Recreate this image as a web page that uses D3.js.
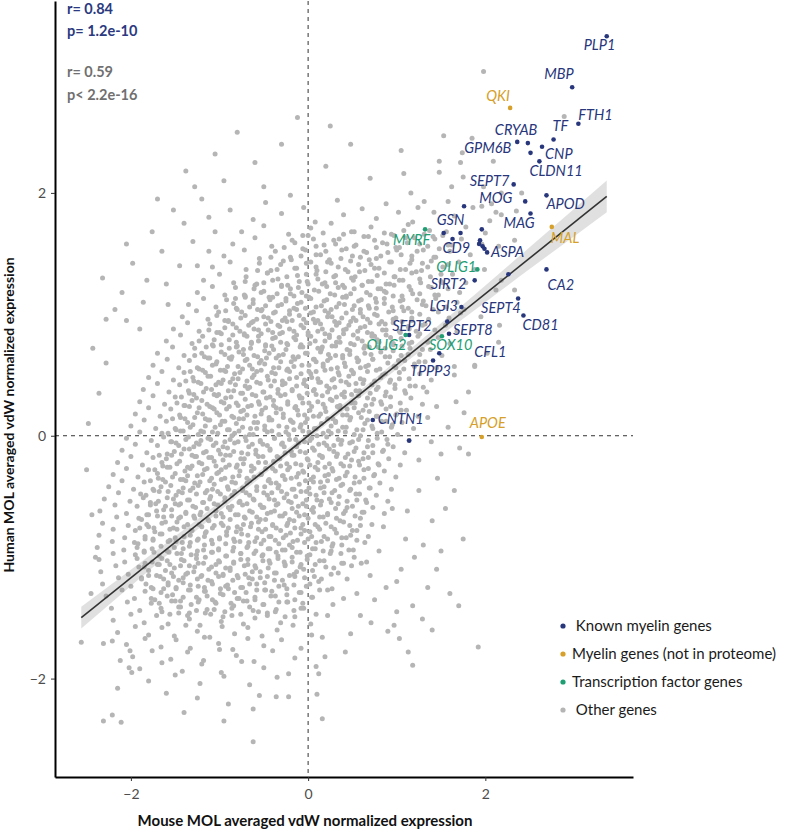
<!DOCTYPE html>
<html><head><meta charset="utf-8">
<script src="https://cdn.jsdelivr.net/npm/d3@7"></script>
<style>body{margin:0;background:#fff}</style>
</head><body><svg id="c" width="786" height="833"></svg>
<script>
// ---------- DATA ----------
// Other genes: flat list of (mouse, human) pairs, in hundredths of a unit
const otherGenesXY = [
198,300, 289,263, 153,247, 185,245, 174,233, 105,235, 108,216, 148,226, 172,225, 209,226, 148,217, 175,213, 162,205, 116,200, 198,205, 218,200, 241,200, 158,193, 207,191, 235,185, 124,188, 142,184, 186,188, 218,182,
48,240, -50,205, -88,186, -105,168, -130,160, 20,222, 70,212, -20,198,
233,120, 218,128, 212,120, 199,137, 215,156, 233,161, 212,184, 176,104, 195,98, 216,91, 215,77, 202,68, 188,58, 165,57,
167,28, 176,19, 181,36, 171,-10, 181,-15, 145,24, 158,7, 139,-5, 146,-35, 188,57, 165,50, 130,40, 125,-20, 135,15, 150,-15,
95,-60, 110,-85, 125,-45, 140,-70, 105,-110, 88,-125, 118,-140, 150,-95, 75,-135, 90,-161, 97,-156, 103,-167, 113,-178, 118,-189, 129,-151, 192,-174, 71,-154, 59,-148, 48,-163, 42,-178, 16,-166, 19,-182, 9,-190, 12,-196, 10,-213, 16,-233, -22,-215, -36,-215, -62,-225, -62,-252,
60,-105, 80,-95, 100,-120, 120,-100, 135,-125, 85,-75, 112,-62, 130,-90, 145,-110, 160,-130, 70,-115, 55,-130, 100,-145, 140,-160, 170,-140, 155,-60, 175,-85, 165,-45,
-256,-170, -231,-171, -221,-169, -212,-185, -201,-177, -202,-191, -199,-195, -215,-208, -231,-235, -221,-230, -211,-236,
-250,-28, -244,-65, -248,10, -240,-100, -245,-130, -236,35, -228,60, -243,72, -228,96, -210,118, -182,128, -165,152, -205,158, -140,175, -120,195, -95,210,
-198,142, -176,168, -152,186, -128,205, -112,180, -160,125, -145,140, -186,110, -218,104, -232,130, -170,195, -138,218, -105,232, -80,250, -60,225, -30,240, -12,262, 25,255, -190,88, -205,95, -158,108, -125,140, -112,152,
-48,192, -5,188, 33,194, 61,187, 88,191, 131,193, 196,189,
-62,178, -30,183, 8,176, 40,182, 77,179, 102,184, 118,176, 165,181, 205,177,
-75,168, -50,173, -22,166, 3,171, 26,175, 49,168, 71,172, 94,166, 113,174, 137,169, 152,165, 178,172, 200,167,
-85,158, -60,163, -41,156, -18,161, 0,165, 18,157, 35,162, 52,156, 68,164, 84,159, 99,155, 110,163, 126,158, 141,164, 158,157, 173,162, 196,158,
-95,148, -72,153, -55,146, -37,152, -20,147, -6,154, 9,149, 24,145, 38,153, 50,148, 63,152, 77,146, 90,151, 103,155, 117,148, 130,153, 144,147, 160,152, 183,149,
-108,139, -88,143, -70,137, -55,142, -42,136, -28,144, -15,138, -2,142, 10,136, 22,143, 34,139, 45,135, 57,141, 69,145, 80,138, 92,143, 104,137, 115,142, 128,136, 139,144, 152,139, 170,143, 188,137,
-118,128, -100,133, -84,126, -70,131, -58,125, -46,134, -34,129, -23,124, -12,132, -1,127, 9,133, 19,126, 29,131, 39,124, 49,130, 58,135, 68,127, 78,132, 88,125, 97,131, 107,128, 117,134, 127,126, 138,131, 150,127, 163,133, 178,126,
-125,118, -108,123, -94,116, -82,122, -71,115, -60,124, -50,119, -40,114, -30,123, -20,117, -11,122, -2,115, 7,120, 16,125, 25,117, 34,122, 43,115, 52,121, 61,124, 70,116, 79,121, 88,118, 97,124, 106,115, 116,120, 126,117, 136,123, 147,116, 158,121, 171,118,
-135,108, -118,113, -104,106, -92,112, -81,105, -71,114, -62,109, -52,104, -43,112, -34,107, -25,113, -16,105, -8,110, 1,114, 9,106, 18,111, 26,104, 35,109, 43,114, 52,107, 60,112, 69,105, 77,110, 86,113, 95,106, 104,111, 113,105, 123,112, 133,107, 144,113, 156,106, 168,110,
-142,98, -126,103, -113,96, -101,102, -90,95, -80,104, -71,99, -62,94, -53,103, -45,97, -37,102, -29,95, -21,100, -13,104, -5,96, 3,101, 11,95, 19,103, 27,98, 35,93, 43,101, 51,97, 59,104, 67,96, 75,100, 83,94, 91,102, 99,97, 108,103, 117,95, 126,100, 136,96, 147,102, 159,97, 172,101,
-152,88, -136,93, -123,86, -111,92, -100,85, -90,94, -81,89, -72,84, -64,93, -56,87, -48,92, -40,85, -32,90, -24,94, -16,86, -8,91, 0,85, 8,93, 16,88, 24,83, 32,91, 40,87, 48,94, 56,86, 64,90, 72,84, 80,92, 88,87, 96,93, 104,85, 113,90, 122,86, 132,92, 143,87, 155,91, 168,86,
-160,78, -144,83, -131,76, -119,82, -108,75, -98,84, -89,79, -80,74, -72,83, -64,77, -56,82, -48,75, -40,80, -32,84, -24,76, -16,81, -8,75, 0,83, 8,78, 16,73, 24,81, 32,77, 40,84, 48,76, 56,80, 64,74, 72,82, 80,77, 88,83, 96,75, 105,80, 114,76, 124,82, 135,77, 147,81, 160,76,
-170,68, -153,73, -140,66, -128,72, -117,65, -107,74, -98,69, -89,64, -81,73, -73,67, -65,72, -57,65, -49,70, -41,74, -33,66, -25,71, -17,65, -9,73, -1,68, 7,63, 15,71, 23,67, 31,74, 39,66, 47,70, 55,64, 63,72, 71,67, 79,73, 87,65, 96,70, 105,66, 115,72, 126,67, 138,71, 151,66,
-175,58, -159,63, -146,56, -134,62, -123,55, -113,64, -104,59, -95,54, -87,63, -79,57, -71,62, -63,55, -55,60, -47,64, -39,56, -31,61, -23,55, -15,63, -7,58, 1,53, 9,61, 17,57, 25,64, 33,56, 41,60, 49,54, 57,62, 65,57, 73,63, 81,55, 90,60, 99,56, 109,62, 120,57, 132,61, 145,56,
-180,48, -165,53, -152,46, -140,52, -129,45, -119,54, -110,49, -101,44, -93,53, -85,47, -77,52, -69,45, -61,50, -53,54, -45,46, -37,51, -29,45, -21,53, -13,48, -5,43, 3,51, 11,47, 19,54, 27,46, 35,50, 43,44, 51,52, 59,47, 67,53, 75,45, 84,50, 93,46, 103,52, 114,47, 126,51, 139,46,
-186,38, -170,43, -157,36, -145,42, -134,35, -124,44, -115,39, -106,34, -98,43, -90,37, -82,42, -74,35, -66,40, -58,44, -50,36, -42,41, -34,35, -26,43, -18,38, -10,33, -2,41, 6,37, 14,44, 22,36, 30,40, 38,34, 46,42, 54,37, 62,43, 70,35, 79,40, 88,36, 98,42, 109,37, 121,41, 134,36,
-190,28, -175,33, -162,26, -150,32, -139,25, -129,34, -120,29, -111,24, -103,33, -95,27, -87,32, -79,25, -71,30, -63,34, -55,26, -47,31, -39,25, -31,33, -23,28, -15,23, -7,31, 1,27, 9,34, 17,26, 25,30, 33,24, 41,32, 49,27, 57,33, 65,25, 74,30, 83,26, 93,32, 104,27, 116,31, 129,26,
-195,18, -180,23, -167,16, -155,22, -144,15, -134,24, -125,19, -116,14, -108,23, -100,17, -92,22, -84,15, -76,20, -68,24, -60,16, -52,21, -44,15, -36,23, -28,18, -20,13, -12,21, -4,17, 4,24, 12,16, 20,20, 28,14, 36,22, 44,17, 52,23, 60,15, 69,20, 78,16, 88,22, 99,17, 111,21, 124,16,
-200,8, -185,13, -172,6, -160,12, -149,5, -139,14, -130,9, -121,4, -113,13, -105,7, -97,12, -89,5, -81,10, -73,14, -65,6, -57,11, -49,5, -41,13, -33,8, -25,3, -17,11, -9,7, -1,14, 7,6, 15,10, 23,4, 31,12, 39,7, 47,13, 55,5, 64,10, 73,6, 83,12, 94,7, 106,11, 119,6,
-205,-2, -190,3, -177,-4, -165,2, -154,-5, -144,4, -135,-1, -126,-6, -118,3, -110,-3, -102,2, -94,-5, -86,0, -78,4, -70,-4, -62,1, -54,-5, -46,3, -38,-2, -30,-7, -22,1, -14,-3, -6,4, 2,-4, 10,0, 18,-6, 26,2, 34,-3, 42,3, 50,-5, 59,0, 68,-4, 78,2, 89,-3, 101,1, 114,-4,
-210,-12, -195,-7, -182,-14, -170,-8, -159,-15, -149,-6, -140,-11, -131,-16, -123,-7, -115,-13, -107,-8, -99,-15, -91,-10, -83,-6, -75,-14, -67,-9, -59,-15, -51,-7, -43,-12, -35,-17, -27,-9, -19,-13, -11,-6, -3,-14, 5,-10, 13,-16, 21,-8, 29,-13, 37,-7, 45,-15, 54,-10, 63,-14, 73,-8, 84,-13, 96,-9, 109,-14,
-215,-22, -200,-17, -187,-24, -175,-18, -164,-25, -154,-16, -145,-21, -136,-26, -128,-17, -120,-23, -112,-18, -104,-25, -96,-20, -88,-16, -80,-24, -72,-19, -64,-25, -56,-17, -48,-22, -40,-27, -32,-19, -24,-23, -16,-16, -8,-24, 0,-20, 8,-26, 16,-18, 24,-23, 32,-17, 40,-25, 49,-20, 58,-24, 68,-18, 79,-23, 91,-19, 104,-24,
-220,-32, -205,-27, -192,-34, -180,-28, -169,-35, -159,-26, -150,-31, -141,-36, -133,-27, -125,-33, -117,-28, -109,-35, -101,-30, -93,-26, -85,-34, -77,-29, -69,-35, -61,-27, -53,-32, -45,-37, -37,-29, -29,-33, -21,-26, -13,-34, -5,-30, 3,-36, 11,-28, 19,-33, 27,-27, 35,-35, 44,-30, 53,-34, 63,-28, 74,-33, 86,-29, 99,-34,
-225,-42, -210,-37, -197,-44, -185,-38, -174,-45, -164,-36, -155,-41, -146,-46, -138,-37, -130,-43, -122,-38, -114,-45, -106,-40, -98,-36, -90,-44, -82,-39, -74,-45, -66,-37, -58,-42, -50,-47, -42,-39, -34,-43, -26,-36, -18,-44, -10,-40, -2,-46, 6,-38, 14,-43, 22,-37, 30,-45, 39,-40, 48,-44, 58,-38, 69,-43, 81,-39, 94,-44,
-230,-52, -214,-47, -201,-54, -189,-48, -178,-55, -168,-46, -159,-51, -150,-56, -142,-47, -134,-53, -126,-48, -118,-55, -110,-50, -102,-46, -94,-54, -86,-49, -78,-55, -70,-47, -62,-52, -54,-57, -46,-49, -38,-53, -30,-46, -22,-54, -14,-50, -6,-56, 2,-48, 10,-53, 18,-47, 26,-55, 35,-50, 44,-54, 54,-48, 65,-53, 77,-49, 90,-54,
-235,-62, -218,-57, -205,-64, -193,-58, -182,-65, -172,-56, -163,-61, -154,-66, -146,-57, -138,-63, -130,-58, -122,-65, -114,-60, -106,-56, -98,-64, -90,-59, -82,-65, -74,-57, -66,-62, -58,-67, -50,-59, -42,-63, -34,-56, -26,-64, -18,-60, -10,-66, -2,-58, 6,-63, 14,-57, 22,-65, 31,-60, 40,-64, 50,-58, 61,-63, 73,-59, 86,-64,
-232,-72, -216,-67, -203,-74, -191,-68, -180,-75, -170,-66, -161,-71, -152,-76, -144,-67, -136,-73, -128,-68, -120,-75, -112,-70, -104,-66, -96,-74, -88,-69, -80,-75, -72,-67, -64,-72, -56,-77, -48,-69, -40,-73, -32,-66, -24,-74, -16,-70, -8,-76, 0,-68, 8,-73, 17,-67, 26,-75, 36,-70, 47,-74, 59,-68, 72,-73,
-236,-82, -220,-77, -207,-84, -195,-78, -184,-85, -174,-76, -165,-81, -156,-86, -148,-77, -140,-83, -132,-78, -124,-85, -116,-80, -108,-76, -100,-84, -92,-79, -84,-85, -76,-77, -68,-82, -60,-87, -52,-79, -44,-83, -36,-76, -28,-84, -20,-80, -12,-86, -4,-78, 4,-83, 13,-77, 22,-85, 32,-80, 43,-84, 55,-78, 68,-83,
-238,-92, -221,-87, -208,-94, -196,-88, -185,-95, -175,-86, -166,-91, -157,-96, -149,-87, -141,-93, -133,-88, -125,-95, -117,-90, -109,-86, -101,-94, -93,-89, -85,-95, -77,-87, -69,-92, -61,-97, -53,-89, -45,-93, -37,-86, -29,-94, -21,-90, -13,-96, -4,-88, 5,-93, 15,-87, 26,-95, 38,-90, 51,-94, 64,-88,
-236,-102, -220,-97, -207,-104, -195,-98, -184,-105, -174,-96, -165,-101, -156,-106, -148,-97, -140,-103, -132,-98, -124,-105, -116,-100, -108,-96, -100,-104, -92,-99, -84,-105, -76,-97, -68,-102, -60,-107, -52,-99, -44,-103, -36,-96, -27,-104, -18,-100, -8,-106, 2,-98, 13,-103, 25,-97, 38,-105, 52,-100, 66,-104,
-234,-112, -217,-107, -203,-114, -191,-108, -180,-115, -170,-106, -161,-111, -152,-116, -144,-107, -136,-113, -128,-108, -120,-115, -112,-110, -104,-106, -96,-114, -88,-109, -80,-115, -72,-107, -63,-112, -54,-117, -45,-109, -36,-113, -26,-106, -16,-114, -5,-110, 7,-116, 20,-108, 34,-113, 49,-107,
-232,-122, -214,-117, -200,-124, -188,-118, -177,-125, -167,-116, -158,-121, -149,-126, -141,-117, -133,-123, -125,-118, -117,-125, -109,-120, -101,-116, -93,-124, -85,-119, -76,-125, -67,-117, -58,-122, -48,-127, -38,-119, -27,-123, -15,-116, -2,-124, 12,-120, 27,-126, 44,-118,
-228,-132, -210,-127, -196,-134, -184,-128, -173,-135, -163,-126, -153,-131, -144,-136, -135,-127, -126,-133, -117,-128, -108,-135, -99,-130, -90,-126, -80,-134, -70,-129, -60,-135, -49,-127, -37,-132, -24,-137, -10,-129, 5,-133, 22,-127, 40,-134,
-222,-142, -204,-137, -190,-144, -177,-138, -165,-145, -154,-136, -144,-141, -134,-146, -124,-137, -114,-143, -104,-138, -94,-145, -84,-140, -73,-136, -62,-144, -50,-139, -37,-145, -23,-137, -8,-142, 9,-147, 28,-139,
-220,-152, -200,-147, -185,-154, -171,-148, -158,-155, -146,-146, -134,-151, -122,-156, -110,-147, -98,-153, -86,-148, -73,-155, -60,-150, -46,-146, -31,-154, -15,-149, 3,-155, 22,-148,
-215,-162, -195,-157, -180,-164, -165,-158, -151,-165, -138,-156, -125,-161, -111,-166, -97,-157, -83,-163, -68,-158, -52,-165, -35,-160, -17,-156, 4,-164,
-205,-172, -184,-167, -166,-174, -149,-168, -133,-175, -117,-166, -101,-171, -85,-176, -68,-167, -50,-173, -30,-168, -8,-175,
-198,-182, -176,-177, -155,-184, -136,-178, -118,-185, -100,-176, -81,-181, -61,-186, -40,-177, -15,-183,
-190,-192, -165,-187, -142,-194, -120,-188, -98,-195, -75,-186, -50,-191, -22,-196,
-180,-202, -150,-197, -122,-204, -95,-198, -66,-205, -35,-199,
-160,-212, -125,-216, -90,-221, -55,-214, -140,-228, -95,-235,
-6,165, 6,162, 17,167, 29,161, 40,166, 52,168, 63,164, 75,161, 86,167, 97,165, 108,169, 120,163, 131,166, 143,162, 156,168,
-27,155, -15,159, -3,153, 9,156, 20,152, 31,158, 43,154, 54,157, 66,151, 77,155, 89,158, 100,153, 112,159, 123,152, 135,156, 148,154, 162,157,
-42,147, -31,141, -19,145, -8,148, 3,143, 14,149, 26,142, 37,146, 48,144, 59,147, 71,141, 82,148, 94,143, 105,149, 117,145, 129,142, 142,147, 158,141,
-57,136, -46,134, -35,137, -24,131, -13,138, -2,133, 9,139, 20,135, 31,132, 42,137, 53,131, 64,136, 75,138, 86,134, 98,131, 110,137, 122,135, 135,139, 150,133,
-71,127, -61,121, -50,126, -40,128, -30,124, -20,121, -10,127, 0,125, 11,129, 21,123, 31,126, 41,122, 51,128, 61,124, 72,127, 82,121, 92,125, 103,128, 114,123, 126,129, 139,122, 152,126,
-82,113, -72,116, -62,112, -53,118, -44,114, -35,117, -25,111, -16,115, -7,118, 3,113, 12,119, 21,112, 30,116, 39,114, 48,117, 57,111, 66,118, 76,113, 86,119, 96,115, 107,112, 118,117, 130,111, 143,116,
-93,103, -84,109, -75,102, -66,106, -57,104, -48,107, -39,101, -30,108, -21,103, -12,109, -3,105, 6,102, 15,107, 23,101, 32,106, 41,108, 50,104, 59,101, 68,107, 77,105, 86,109, 96,103, 106,106, 117,102, 129,108, 141,104,
-103,99, -94,95, -85,92, -76,97, -67,91, -58,96, -50,98, -42,94, -34,91, -26,97, -18,95, -10,99, -2,93, 6,96, 14,92, 22,98, 30,94, 38,97, 46,91, 54,95, 62,98, 70,93, 78,99, 87,92, 96,96, 106,94, 117,97, 129,91,
-112,87, -103,85, -94,89, -85,83, -77,86, -69,82, -61,88, -53,84, -45,87, -37,81, -29,85, -21,88, -13,83, -5,89, 3,82, 11,86, 19,84, 27,87, 35,81, 43,88, 51,83, 59,89, 67,85, 75,82, 84,87, 93,81, 103,86, 114,88, 126,84,
-123,78, -115,73, -106,79, -98,75, -89,72, -81,77, -73,71, -64,76, -56,78, -48,74, -39,71, -31,77, -23,75, -14,79, -6,73, 2,76, 11,72, 19,78, 27,74, 36,77, 44,71, 52,75, 61,78, 69,73, 78,79, 87,72, 96,76, 106,74, 117,77, 129,71,
-128,66, -120,68, -111,64, -103,61, -94,67, -86,65, -78,69, -69,63, -61,66, -53,62, -44,68, -36,64, -28,67, -19,61, -11,65, -3,68, 6,63, 14,69, 22,62, 31,66, 39,64, 47,67, 56,61, 64,68, 73,63, 82,69, 92,65, 102,62, 113,67, 125,61,
-133,53, -125,56, -116,52, -108,58, -99,54, -91,57, -83,51, -74,55, -66,58, -58,53, -49,59, -41,52, -33,56, -24,54, -16,57, -8,51, 1,58, 9,53, 17,59, 26,55, 34,52, 42,57, 51,51, 59,56, 68,58, 77,54, 87,51, 97,57, 108,55, 120,59,
-138,45, -130,48, -121,43, -113,49, -104,42, -96,46, -88,44, -79,47, -71,41, -63,48, -54,43, -46,49, -38,45, -29,42, -21,47, -13,41, -4,46, 4,48, 12,44, 21,41, 29,47, 37,45, 46,49, 54,43, 63,46, 72,42, 82,48, 92,44, 103,47, 115,41,
-143,32, -135,37, -126,31, -118,36, -109,38, -101,34, -93,31, -84,37, -76,35, -68,39, -59,33, -51,36, -43,32, -34,38, -26,34, -18,37, -9,31, -1,35, 7,38, 16,33, 24,39, 32,32, 41,36, 49,34, 58,37, 67,31, 77,38, 87,33, 98,39, 110,35,
-148,27, -140,25, -131,29, -123,23, -114,26, -106,22, -98,28, -89,24, -81,27, -73,21, -64,25, -56,28, -48,23, -39,29, -31,22, -23,26, -14,24, -6,27, 2,21, 11,28, 19,23, 27,29, 36,25, 44,22, 53,27, 62,21, 72,26, 82,28, 93,24, 105,21,
-153,14, -145,17, -136,11, -128,15, -119,18, -111,13, -103,19, -94,12, -86,16, -78,14, -69,17, -61,11, -53,18, -44,13, -36,19, -28,15, -19,12, -11,17, -3,11, 6,16, 14,18, 22,14, 31,11, 39,17, 48,15, 57,19, 67,13, 77,16, 88,12, 100,18,
-158,2, -150,6, -141,4, -133,7, -124,1, -116,8, -108,3, -99,9, -91,5, -83,2, -74,7, -66,1, -58,6, -49,8, -41,4, -33,1, -24,7, -16,5, -8,9, 1,3, 9,6, 17,2, 26,8, 34,4, 43,7, 52,1, 62,5, 72,8, 83,3, 95,9,
-163,-1, -155,-5, -146,-8, -138,-3, -129,-9, -121,-4, -113,-2, -104,-6, -96,-9, -88,-3, -79,-5, -71,-1, -63,-7, -54,-4, -46,-8, -38,-2, -29,-6, -21,-3, -13,-9, -4,-5, 4,-2, 12,-7, 21,-1, 29,-8, 38,-4, 47,-6, 57,-3, 67,-9, 78,-2, 90,-7,
-168,-16, -160,-19, -151,-13, -143,-15, -134,-11, -126,-17, -118,-14, -109,-18, -101,-12, -93,-16, -84,-13, -76,-19, -68,-15, -59,-12, -51,-17, -43,-11, -34,-18, -26,-14, -18,-16, -9,-13, -1,-19, 7,-12, 16,-17, 24,-11, 33,-15, 42,-18, 52,-13, 62,-19, 73,-14, 85,-12,
-173,-28, -165,-22, -156,-26, -148,-23, -139,-29, -131,-25, -123,-22, -114,-27, -106,-21, -98,-28, -89,-24, -81,-26, -73,-23, -64,-29, -56,-22, -48,-27, -39,-21, -31,-25, -23,-28, -14,-23, -6,-29, 2,-24, 11,-22, 19,-26, 28,-29, 37,-23, 47,-25, 57,-21, 68,-27, 80,-24,
-178,-37, -170,-31, -161,-38, -153,-34, -144,-36, -136,-33, -128,-39, -119,-32, -111,-37, -103,-31, -94,-35, -86,-38, -78,-33, -69,-39, -61,-34, -53,-32, -44,-36, -36,-39, -28,-33, -19,-35, -11,-31, -3,-37, 6,-34, 14,-38, 23,-32, 32,-36, 42,-33, 52,-39, 63,-35, 75,-32,
-183,-49, -175,-44, -166,-42, -158,-46, -149,-49, -141,-43, -133,-45, -124,-41, -116,-47, -108,-44, -99,-48, -91,-42, -83,-46, -74,-43, -66,-49, -58,-45, -49,-42, -41,-47, -33,-41, -24,-48, -16,-44, -8,-46, 1,-43, 9,-49, 18,-42, 27,-47, 37,-41, 47,-45, 58,-48, 70,-43,
-186,-51, -178,-57, -169,-54, -161,-58, -152,-52, -144,-56, -136,-53, -127,-59, -119,-55, -111,-52, -102,-57, -94,-51, -86,-58, -77,-54, -69,-56, -61,-53, -52,-59, -44,-52, -36,-57, -27,-51, -19,-55, -11,-58, -2,-53, 6,-59, 15,-54, 24,-52, 34,-56, 44,-59, 55,-53, 66,-55,
-188,-69, -180,-65, -171,-62, -163,-67, -154,-61, -146,-68, -138,-64, -129,-66, -121,-63, -113,-69, -104,-62, -96,-67, -88,-61, -79,-65, -71,-68, -63,-63, -54,-69, -46,-64, -38,-62, -29,-66, -21,-69, -13,-63, -4,-65, 4,-61, 13,-67, 22,-64, 32,-68, 42,-62, 53,-66, 63,-63,
-190,-76, -182,-73, -173,-79, -165,-72, -156,-77, -148,-71, -140,-75, -131,-78, -123,-73, -115,-79, -106,-74, -98,-72, -90,-76, -81,-79, -73,-73, -65,-75, -56,-71, -48,-77, -40,-74, -31,-78, -23,-72, -15,-76, -6,-73, 2,-79, 11,-75, 20,-72, 30,-77, 40,-71, 50,-78, 59,-74,
-192,-89, -184,-83, -175,-85, -167,-81, -158,-87, -150,-84, -142,-88, -133,-82, -125,-86, -117,-83, -108,-89, -100,-85, -92,-82, -83,-87, -75,-81, -67,-88, -58,-84, -50,-86, -42,-83, -33,-89, -25,-82, -17,-87, -8,-81, 0,-85, 9,-88, 18,-83, 28,-89, 38,-84, 48,-82, 55,-86,
-193,-92, -185,-96, -176,-93, -168,-99, -159,-95, -151,-92, -143,-97, -134,-91, -126,-98, -118,-94, -109,-96, -101,-93, -93,-99, -84,-92, -76,-97, -68,-91, -59,-95, -51,-98, -43,-93, -34,-99, -26,-94, -18,-92, -9,-96, -1,-99, 8,-93, 17,-95, 27,-91, 37,-97, 46,-94,
-193,-101, -185,-108, -176,-104, -168,-106, -159,-103, -151,-109, -143,-102, -134,-107, -126,-101, -118,-105, -109,-108, -101,-103, -93,-109, -84,-104, -76,-102, -68,-106, -59,-109, -51,-103, -43,-105, -34,-101, -26,-107, -18,-104, -9,-108, -1,-102, 8,-106, 18,-103, 29,-109, 40,-105,
-188,-117, -180,-111, -171,-115, -163,-118, -154,-113, -146,-119, -138,-114, -129,-112, -121,-116, -113,-119, -104,-113, -96,-115, -88,-111, -79,-117, -71,-114, -63,-118, -54,-112, -46,-116, -38,-113, -29,-119, -21,-115, -13,-112, -4,-117, 5,-111, 15,-118, 26,-114,
-183,-122, -175,-126, -166,-129, -158,-123, -149,-125, -141,-121, -133,-127, -124,-124, -116,-128, -108,-122, -99,-126, -91,-123, -83,-129, -74,-125, -66,-122, -58,-127, -49,-121, -41,-128, -33,-124, -24,-126, -16,-123, -8,-129, 2,-122, 13,-127,
-177,-134, -168,-138, -159,-132, -150,-136, -141,-133, -132,-139, -123,-135, -114,-132, -105,-137, -96,-131, -87,-138, -78,-134, -69,-136, -60,-133, -51,-139, -42,-132, -33,-137, -24,-131, -15,-135, -6,-138, 4,-133,
-166,-142, -156,-147, -146,-141, -136,-148, -126,-144, -116,-146, -106,-143, -96,-149, -86,-142, -76,-147, -66,-141, -56,-145, -46,-148, -36,-143, -26,-149, -16,-144, -5,-142
];

// Highlighted genes
const geneNames = ["PLP1","MBP","QKI","FTH1","TF","GPM6B","CRYAB","","CNP","CLDN11","SEPT7","MOG","APOD","","MAG","MAL","GSN","","CD9","","MYRF","","","","","ASPA","OLIG1","SIRT2","CA2","","SEPT4","CD81","LGI3","","SEPT2","SEPT8","OLIG2","SOX10","CFL1","TPPP3","CNTN1","","APOE"];
const geneX = [3.37,2.98,2.28,3.05,2.77,2.36,2.48,2.51,2.64,2.61,2.32,2.45,2.69,1.76,2.51,2.75,1.53,1.72,1.63,1.96,1.32,1.93,1.97,1.99,1.94,2.02,1.91,1.88,2.69,2.26,2.37,2.43,1.73,1.57,1.14,1.59,1.10,1.51,1.48,1.41,0.73,1.14,1.96];
const geneY = [3.29,2.87,2.70,2.57,2.44,2.42,2.41,2.33,2.38,2.26,2.07,1.93,1.98,1.89,1.83,1.72,1.67,1.67,1.62,1.70,1.70,1.58,1.56,1.54,1.61,1.51,1.37,1.28,1.37,1.33,1.13,0.99,1.06,0.94,0.83,0.84,0.83,0.82,0.68,0.62,0.13,-0.04,-0.01];
const geneGroup = ["known","known","notProteome","known","known","known","known","known","known","known","known","known","known","known","known","notProteome","known","known","known","known","tf","known","known","known","known","known","tf","known","known","known","known","known","known","known","known","known","tf","tf","known","known","known","known","notProteome"];

const groupKeys = ["known","notProteome","tf","other"];
const groupLabels = ["\u00a0Known myelin genes","Myelin genes (not in proteome)","Transcription factor genes","\u00a0Other genes"];

const xTicks = [-2,0,2];
const yTicks = [-2,0,2];

// Linear fit (all genes) and its standard-error half width
const fitSlope = 0.585, fitIntercept = 0.0;
const bandX = [-2.56,-1.5,-0.5,0.5,1.5,2.5,3.37];
const bandHalf = [0.09,0.05,0.028,0.028,0.05,0.09,0.13];

const statsText = ["r= 0.84","p= 1.2e-10","r= 0.59","p< 2.2e-16"];

// ---------- LAYOUT / STYLE ----------
const colors = {known:"#28367c", notProteome:"#d6a02a", tf:"#1f9e74", other:"#b5b5b5"};
const labelNudge = {PLP1:[-23,14],MBP:[-28,-8],QKI:[-24,-7],FTH1:[0,-4],TF:[-1,-8],GPM6B:[-53,11],CRYAB:[-33,-8],CNP:[3,12],CLDN11:[-10,15],SEPT7:[-44,2],MOG:[-46,2],APOD:[0,14],MAG:[-27,14],MAL:[-1,16],GSN:[-7,-8],CD9:[-10,14],MYRF:[-32,16],ASPA:[4,5],OLIG1:[-41,3],SIRT2:[-44,9],CA2:[1,21],SEPT4:[-37,14],CD81:[-1,14],LGI3:[-32,4],SEPT2:[-17,-4],SEPT8:[4,1],OLIG2:[-39,15],SOX10:[-13,14],CFL1:[35,4],TPPP3:[-23,16],CNTN1:[5,4],APOE:[-12,-9]};
const panel = {left:55, right:633, top:1, bottom:777};
const FONT = "Lato, 'Open Sans', sans-serif";

const svg = d3.select("#c");
const others = d3.range(otherGenesXY.length/2).map(i => ({x: otherGenesXY[2*i]/100, y: otherGenesXY[2*i+1]/100}));
const genes = geneNames.map((n,i)=>({name:n, x:geneX[i], y:geneY[i], g:geneGroup[i]}));

const allX = others.map(d=>d.x).concat(geneX), allY = others.map(d=>d.y).concat(geneY);
const xe = d3.extent(allX), ye = d3.extent(allY);
const xp = 0.05*(xe[1]-xe[0]), yp = 0.05*(ye[1]-ye[0]);
const x = d3.scaleLinear().domain([xe[0]-xp, xe[1]+xp]).range([panel.left, panel.right]);
const y = d3.scaleLinear().domain([ye[0]-yp, ye[1]+yp]).range([panel.bottom, panel.top]);

// reference lines
svg.append("line").attr("x1",x(0)).attr("x2",x(0)).attr("y1",panel.top).attr("y2",panel.bottom)
  .attr("stroke","#333").attr("stroke-width",1).attr("stroke-dasharray","4,4");
svg.append("line").attr("x1",panel.left).attr("x2",panel.right).attr("y1",y(0)).attr("y2",y(0))
  .attr("stroke","#333").attr("stroke-width",1).attr("stroke-dasharray","4,4");

// other genes
svg.append("g").selectAll("circle").data(others).join("circle")
  .attr("cx",d=>x(d.x)).attr("cy",d=>y(d.y)).attr("r",2.5).attr("fill",colors.other);

// fit band + line
const bandData = bandX.map((bx,i)=>({x:bx, lo:fitSlope*bx+fitIntercept-bandHalf[i], hi:fitSlope*bx+fitIntercept+bandHalf[i]}));
svg.append("path").datum(bandData)
  .attr("d", d3.area().x(d=>x(d.x)).y0(d=>y(d.lo)).y1(d=>y(d.hi)).curve(d3.curveMonotoneX))
  .attr("fill","#999").attr("opacity",0.3);
const fx = d3.extent(allX);
svg.append("path").datum(fx.map(v=>({x:v,y:fitSlope*v+fitIntercept})))
  .attr("d", d3.line().x(d=>x(d.x)).y(d=>y(d.y)))
  .attr("stroke","#333").attr("stroke-width",1.6).attr("fill","none");

// highlighted genes
svg.append("g").selectAll("circle").data(genes).join("circle")
  .attr("cx",d=>x(d.x)).attr("cy",d=>y(d.y)).attr("r",2.3).attr("fill",d=>colors[d.g]);
svg.append("g").selectAll("text").data(genes.filter(d=>d.name)).join("text")
  .attr("x",d=>x(d.x)+labelNudge[d.name][0]).attr("y",d=>y(d.y)+labelNudge[d.name][1])
  .attr("fill",d=>colors[d.g]).attr("font-family",FONT).attr("font-style","italic")
  .attr("font-size",14.5).text(d=>d.name);

// axes
const fmt = d3.format("d");
const xAxis = svg.append("g").attr("transform",`translate(0,${panel.bottom})`)
  .call(d3.axisBottom(x).tickValues(xTicks).tickFormat(fmt).tickSize(4).tickSizeOuter(0).tickPadding(8));
const yAxis = svg.append("g").attr("transform",`translate(${panel.left},0)`)
  .call(d3.axisLeft(y).tickValues(yTicks).tickFormat(fmt).tickSize(4).tickSizeOuter(0).tickPadding(5));
[xAxis,yAxis].forEach(a=>{
  a.select(".domain").attr("stroke","#000").attr("stroke-width",2);
  a.selectAll(".tick line").attr("stroke","#333").attr("stroke-width",1);
  a.selectAll(".tick text").attr("fill","#4d4d4d").attr("font-family",FONT).attr("font-size",14);
});

// axis titles
svg.append("text").attr("x",305).attr("y",826).attr("text-anchor","middle")
  .attr("font-family",FONT).attr("font-weight","bold").attr("font-size",15).attr("fill","#111")
  .text("Mouse MOL averaged vdW normalized expression");
svg.append("text").attr("transform",`translate(14,415) rotate(-90)`)
  .attr("text-anchor","middle").attr("font-family",FONT).attr("font-weight","bold").attr("font-size",14).attr("fill","#111")
  .text("Human MOL averaged vdW normalized expression");

// stats
const statY = [14,36,77,100];
svg.append("g").selectAll("text").data(statsText).join("text")
  .attr("x",67).attr("y",(d,i)=>statY[i]).attr("font-family",FONT).attr("font-weight","bold")
  .attr("font-size",14.5).attr("fill",(d,i)=> i<2 ? "#2b3a80" : "#707070").text(d=>d);

// legend
const lg = svg.append("g").selectAll("g").data(groupKeys).join("g")
  .attr("transform",(d,i)=>`translate(563,${626+28*i})`);
lg.append("circle").attr("r",2.6).attr("fill",d=>colors[d]);
lg.append("text").attr("x",9).attr("dy","0.35em").attr("font-family",FONT).attr("font-size",15)
  .attr("fill","#1a1a1a").text((d,i)=>groupLabels[i]);
</script></body></html>
